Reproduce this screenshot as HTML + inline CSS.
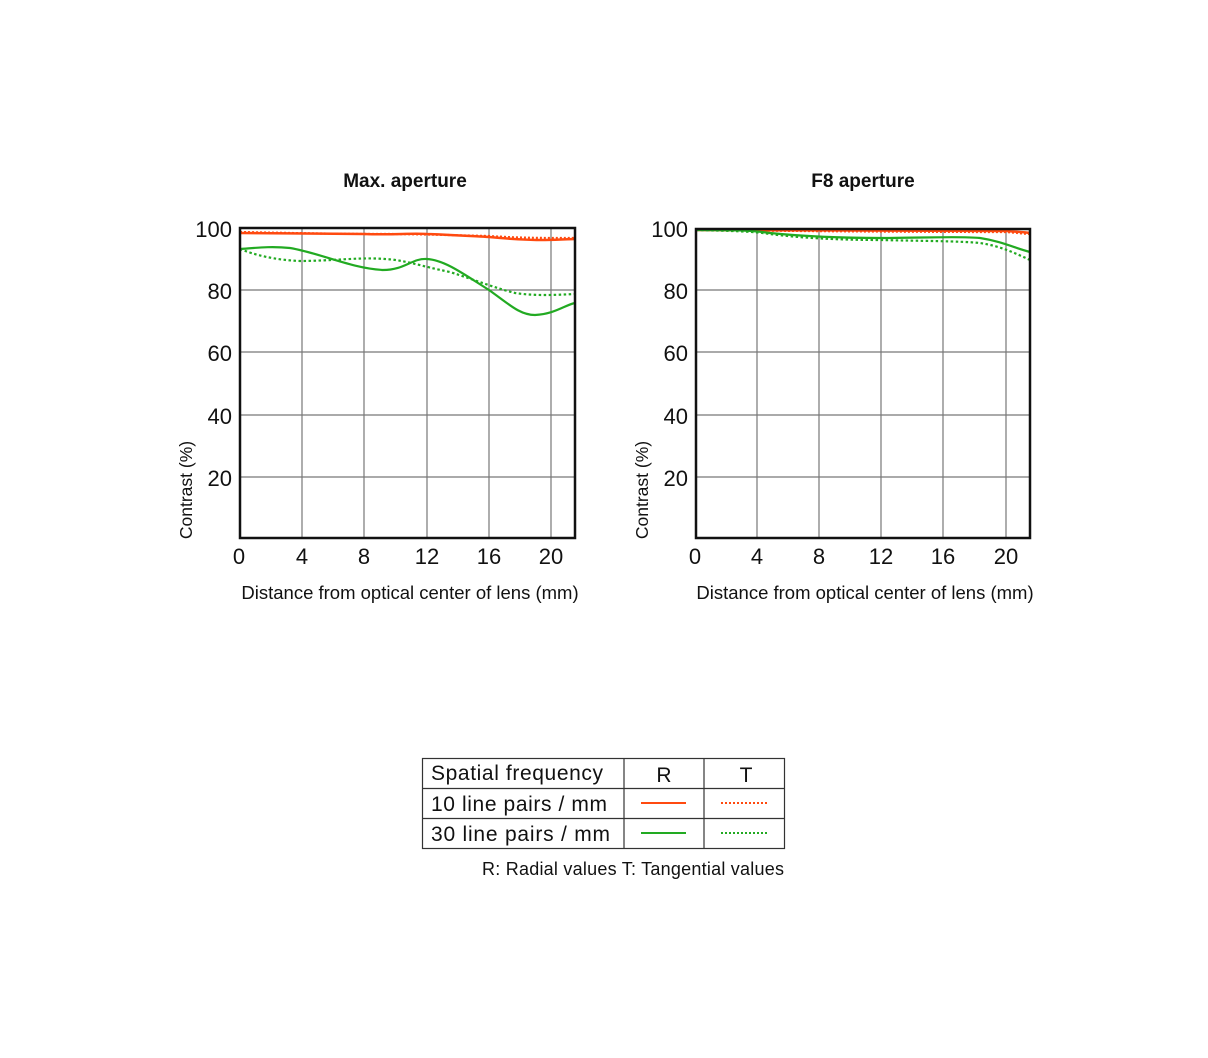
<!DOCTYPE html>
<html><head><meta charset="utf-8"><style>body{margin:0;background:#fff}</style></head><body>
<svg width="1208" height="1053" viewBox="0 0 1208 1053" xmlns="http://www.w3.org/2000/svg" font-family="Liberation Sans, DejaVu Sans, sans-serif">
<rect width="1208" height="1053" fill="#fff"/>
<!-- LEFT CHART -->
<text x="405" y="187" font-size="19" font-weight="bold" text-anchor="middle" fill="#111">Max. aperture</text>
<g stroke="#777" stroke-width="1.2">
<line x1="302" y1="228" x2="302" y2="538"/><line x1="364" y1="228" x2="364" y2="538"/><line x1="427" y1="228" x2="427" y2="538"/><line x1="489" y1="228" x2="489" y2="538"/><line x1="551" y1="228" x2="551" y2="538"/>
<line x1="240" y1="290" x2="575" y2="290"/><line x1="240" y1="352" x2="575" y2="352"/><line x1="240" y1="415" x2="575" y2="415"/><line x1="240" y1="477" x2="575" y2="477"/>
</g>
<path d="M240,233 C280,233 330,234 364,234 C395,235 410,233 427,234 C455,235 470,236 489,237 C510,239 525,240 545,240 C560,240 570,239 575,239" fill="none" stroke="#ff4a10" stroke-width="2.5"/>
<path d="M240,232 C290,233 340,234 380,234 C420,234 440,235 489,236 C520,238 540,238 575,238" fill="none" stroke="#ff4a10" stroke-width="2.2" stroke-dasharray="2,2"/>
<path d="M240,249 C255,248 270,246 290,248 C320,253 350,268 383,270 C405,270 412,258 427,259 C445,260 465,275 489,290 C510,305 520,315 535,315 C555,314 565,305 575,303" fill="none" stroke="#22aa22" stroke-width="2.2"/>
<path d="M240,249 C255,255 275,260 300,261 C330,261 360,257 385,259 C405,260 420,266 450,272 C475,280 495,288 515,293 C535,296 555,295 575,294" fill="none" stroke="#22aa22" stroke-width="2.2" stroke-dasharray="2.5,2.5"/>
<rect x="240" y="228" width="335" height="310" fill="none" stroke="#111" stroke-width="2.5"/>
<g font-size="22" fill="#111" text-anchor="end">
<text x="232" y="237">100</text><text x="232" y="299">80</text><text x="232" y="361">60</text><text x="232" y="424">40</text><text x="232" y="486">20</text>
</g>
<g font-size="22" fill="#111" text-anchor="middle">
<text x="239" y="564">0</text><text x="302" y="564">4</text><text x="364" y="564">8</text><text x="427" y="564">12</text><text x="489" y="564">16</text><text x="551" y="564">20</text>
</g>
<text x="410" y="599" font-size="18.5" text-anchor="middle" fill="#111">Distance from optical center of lens (mm)</text>
<text transform="translate(192,490) rotate(-90)" font-size="17.5" text-anchor="middle" fill="#111">Contrast (%)</text>
<!-- RIGHT CHART -->
<text x="863" y="187" font-size="19" font-weight="bold" text-anchor="middle" fill="#111">F8 aperture</text>
<g stroke="#777" stroke-width="1.2">
<line x1="757" y1="229" x2="757" y2="538"/><line x1="819" y1="229" x2="819" y2="538"/><line x1="881" y1="229" x2="881" y2="538"/><line x1="943" y1="229" x2="943" y2="538"/><line x1="1006" y1="229" x2="1006" y2="538"/>
<line x1="696" y1="290" x2="1030" y2="290"/><line x1="696" y1="352" x2="1030" y2="352"/><line x1="696" y1="415" x2="1030" y2="415"/><line x1="696" y1="477" x2="1030" y2="477"/>
</g>
<path d="M696,230 C800,230 900,231 1006,231 C1020,232 1025,232 1030,233" fill="none" stroke="#ff4a10" stroke-width="2.5"/>
<path d="M696,230 C800,231 900,232 1006,232 C1020,233 1025,234 1030,234" fill="none" stroke="#ff4a10" stroke-width="2.2" stroke-dasharray="2,2"/>
<path d="M696,230 C730,230 750,230 770,233 C800,236 840,238 881,238 C920,238 960,236 980,238 C1000,241 1015,248 1030,252" fill="none" stroke="#22aa22" stroke-width="2.2"/>
<path d="M696,230 C730,231 750,231 770,234 C800,238 840,240 881,240 C920,241 960,241 980,243 C1000,246 1015,253 1030,260" fill="none" stroke="#22aa22" stroke-width="2.2" stroke-dasharray="2.5,2.5"/>
<rect x="696" y="229" width="334" height="309" fill="none" stroke="#111" stroke-width="2.5"/>
<g font-size="22" fill="#111" text-anchor="end">
<text x="688" y="237">100</text><text x="688" y="299">80</text><text x="688" y="361">60</text><text x="688" y="424">40</text><text x="688" y="486">20</text>
</g>
<g font-size="22" fill="#111" text-anchor="middle">
<text x="695" y="564">0</text><text x="757" y="564">4</text><text x="819" y="564">8</text><text x="881" y="564">12</text><text x="943" y="564">16</text><text x="1006" y="564">20</text>
</g>
<text x="865" y="599" font-size="18.5" text-anchor="middle" fill="#111">Distance from optical center of lens (mm)</text>
<text transform="translate(648,490) rotate(-90)" font-size="17.5" text-anchor="middle" fill="#111">Contrast (%)</text>
<!-- LEGEND -->
<g stroke="#333" stroke-width="1.2" fill="none">
<rect x="422.5" y="758.5" width="362" height="90"/>
<line x1="422" y1="788.5" x2="785" y2="788.5"/><line x1="422" y1="818.5" x2="785" y2="818.5"/>
<line x1="624" y1="758" x2="624" y2="849"/><line x1="704" y1="758" x2="704" y2="849"/>
</g>
<g font-size="21" fill="#111">
<text x="431" y="780" textLength="172">Spatial frequency</text>
<text x="431" y="811" textLength="176">10 line pairs / mm</text>
<text x="431" y="841" textLength="179">30 line pairs / mm</text>
<text x="664" y="782" text-anchor="middle">R</text>
<text x="746" y="782" text-anchor="middle">T</text>
</g>
<line x1="641" y1="803" x2="686" y2="803" stroke="#ff4a10" stroke-width="2"/>
<line x1="721" y1="803" x2="767" y2="803" stroke="#ff4a10" stroke-width="2" stroke-dasharray="2,2"/>
<line x1="641" y1="833" x2="686" y2="833" stroke="#22aa22" stroke-width="2"/>
<line x1="721" y1="833" x2="767" y2="833" stroke="#22aa22" stroke-width="2" stroke-dasharray="2,2"/>
<text x="482" y="875" font-size="18" fill="#111" textLength="302">R: Radial values  T: Tangential values</text>
</svg>
</body></html>
